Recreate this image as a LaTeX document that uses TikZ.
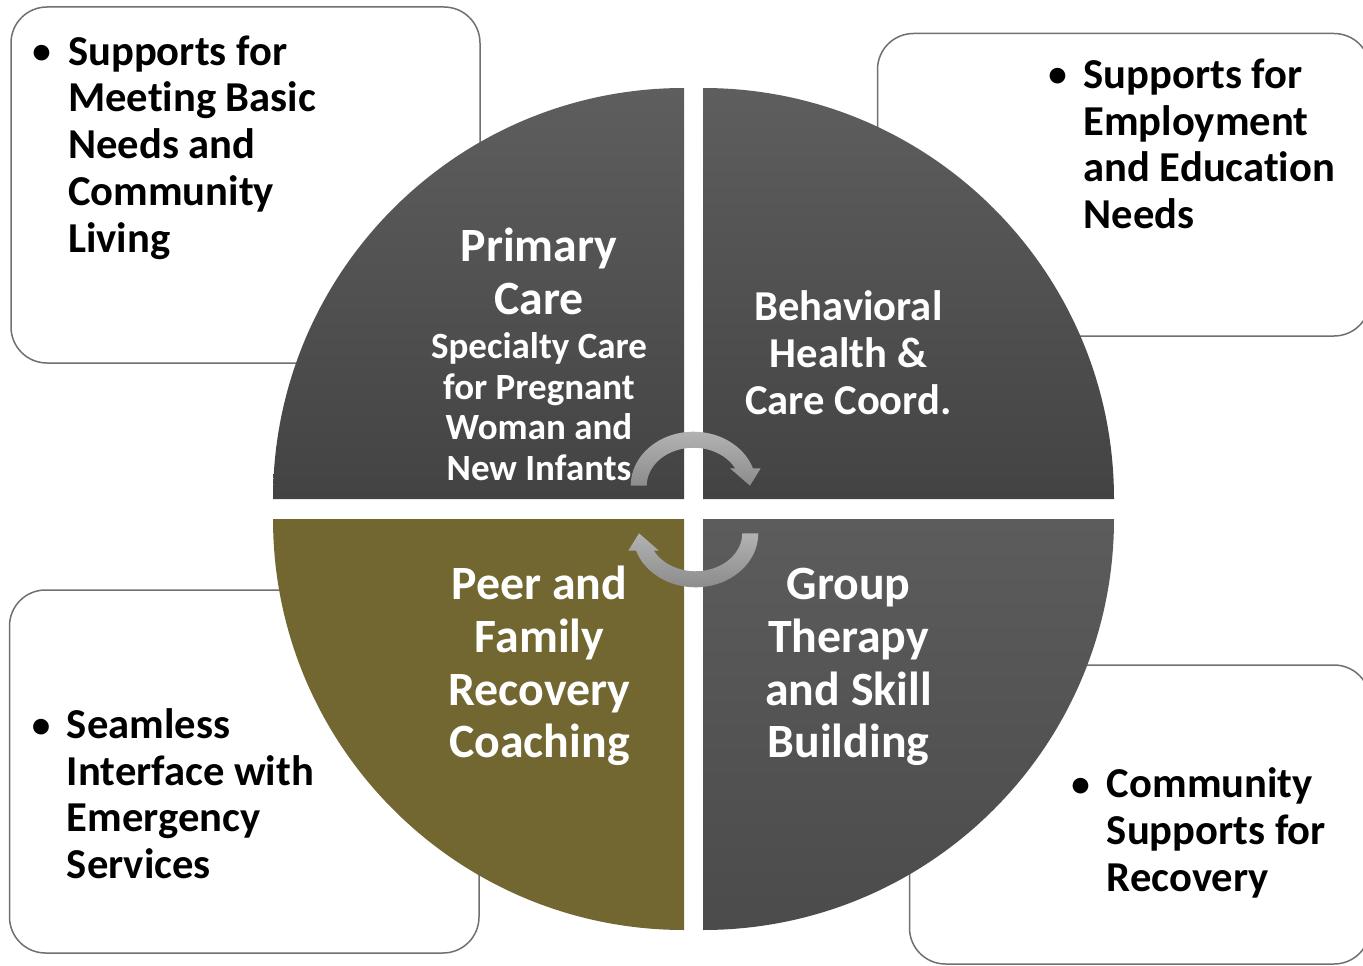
\documentclass[tikz,border=0pt]{standalone}
\usepackage{fontspec}
\setmainfont{Carlito}[Ligatures=NoCommon]
\definecolor{boxgray}{HTML}{707070}
\definecolor{qtop}{HTML}{5E5E5E}
\definecolor{qbot}{HTML}{434343}
\definecolor{qtopb}{HTML}{5C5C5C}
\definecolor{qbotb}{HTML}{4B4B4B}
\definecolor{olive}{HTML}{736731}
\definecolor{arrlight}{HTML}{B2B2B2}
\definecolor{arrdark}{HTML}{8C8C8C}
\begin{document}
\begin{tikzpicture}[x=1pt,y=-1pt,
  box/.style={draw=boxgray, line width=1.5pt, fill=white, rounded corners=36pt},
  btxt/.style={font=\bfseries\fontsize{42.6}{46.7}\selectfont, align=left, anchor=base west, inner sep=0pt, text=black},
  bul/.style={font=\bfseries\fontsize{37}{46.7}\selectfont, anchor=base, inner sep=0pt, text=black},
  qbig/.style={font=\bfseries\fontsize{47.8}{52.6}\selectfont, align=center, anchor=base, inner sep=0pt, text=white},
  qmid/.style={font=\bfseries\fontsize{42.6}{47}\selectfont, align=center, anchor=base, inner sep=0pt, text=white},
  qsmall/.style={font=\bfseries\fontsize{37}{40.5}\selectfont, align=center, anchor=base, inner sep=0pt, text=white}
]
\useasboundingbox (0,0) rectangle (1363,966);
% side boxes
\draw[box] (11,7) rectangle (480,363);
\draw[box] (877.5,33.5) rectangle (1370,336);
\draw[box] (9.5,590) rectangle (479,953);
\draw[box] (909.5,665) rectangle (1370,964);
% quadrants
\shade[top color=qtop, bottom color=qbot] (684,499) -- (273,499) arc[start angle=180, end angle=270, radius=411] -- cycle;
\shade[top color=qtop, bottom color=qbot] (703,499) -- (703,88) arc[start angle=270, end angle=360, radius=411] -- cycle;
\shade[top color=qtopb, bottom color=qbotb] (703,519) -- (1114,519) arc[start angle=0, end angle=90, radius=411] -- cycle;
\fill[olive] (684,519) -- (684,930) arc[start angle=90, end angle=180, radius=411] -- cycle;
% box texts (node base = last line baseline)
\node[bul] (b1) at (41.5,63.5) {•};
\node[btxt] (t1) at (68,252) {Supports for\\Meeting Basic\\Needs and\\Community\\Living};
\node[bul] (b2) at (1057.5,87) {•};
\node[btxt] (t2) at (1083.3,228.6) {Supports for\\Employment\\and Education\\Needs};
\node[bul] (b3) at (41,737) {•};
\node[btxt] (t3) at (66.7,878.6) {Seamless\\Interface with\\Emergency\\Services};
\node[bul] (b4) at (1080.5,796.5) {•};
\node[btxt] (t4) at (1106.7,891.2) {Community\\Supports for\\Recovery};
% quadrant texts
\node[qbig] (prim) at (539,314.2) {Primary\\Care};
\node[qsmall] (spec) at (539,480) {Specialty Care\\for Pregnant\\Woman and\\New Infants};
\node[qmid] (beh) at (848.5,414.8) {Behavioral\\Health \&\\Care Coord.};
\node[qbig] (peer) at (539.5,757.6) {Peer and\\Family\\Recovery\\Coaching};
\node[qbig] (grp) at (848.5,757.6) {Group\\Therapy\\and Skill\\Building};
% circular arrows
\shade[top color=arrlight, bottom color=arrdark]
  (630.7,485.7) arc[start angle=180, end angle=341.2, x radius=62.8, y radius=54]
  -- (760.7,468.3) -- (750,485.7) -- (730,468.3) -- (735.1,468.3)
  arc[start angle=332.7, end angle=180, x radius=46.8, y radius=38] -- cycle;
\shade[top color=arrlight, bottom color=arrdark]
  (758.3,533.3) arc[start angle=0, end angle=161.2, x radius=62.8, y radius=54]
  -- (628.3,550.7) -- (639,533.3) -- (659,550.7) -- (653.9,550.7)
  arc[start angle=152.7, end angle=0, x radius=46.8, y radius=38] -- cycle;
\end{tikzpicture}
\end{document}
